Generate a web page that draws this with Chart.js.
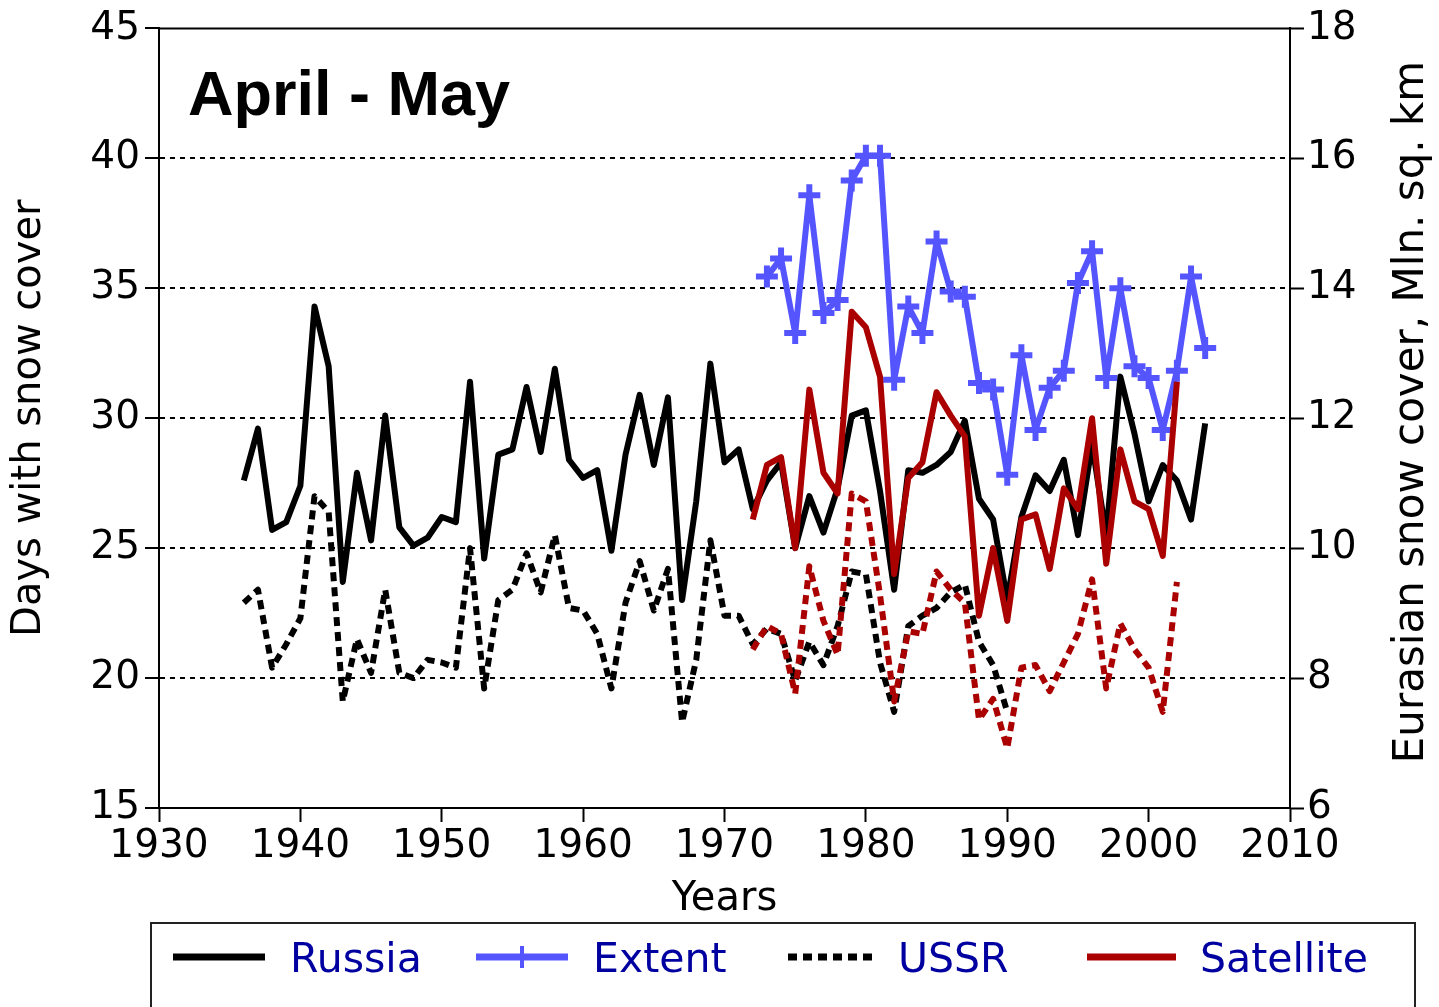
<!DOCTYPE html>
<html>
<head>
<meta charset="utf-8">
<title>April - May snow cover</title>
<script src="https://cdn.jsdelivr.net/npm/chart.js@4.4.1/dist/chart.umd.min.js"></script>
<style>
  html, body { margin: 0; padding: 0; background: #fff; }
  #wrap { width: 1439px; height: 1007px; }
</style>
</head>
<body>
<div id="wrap"><canvas id="snowChart" width="1439" height="1007"></canvas></div>
<script>
// years on the x axis
const years = [
  1936, 1937, 1938, 1939, 1940, 1941, 1942, 1943, 1944, 1945,
  1946, 1947, 1948, 1949, 1950, 1951, 1952, 1953, 1954, 1955,
  1956, 1957, 1958, 1959, 1960, 1961, 1962, 1963, 1964, 1965,
  1966, 1967, 1968, 1969, 1970, 1971, 1972, 1973, 1974, 1975,
  1976, 1977, 1978, 1979, 1980, 1981, 1982, 1983, 1984, 1985,
  1986, 1987, 1988, 1989, 1990, 1991, 1992, 1993, 1994, 1995,
  1996, 1997, 1998, 1999, 2000, 2001, 2002, 2003, 2004
];

// days with snow cover, stations in Russia
const russiaDays = [
  27.6, 29.6, 25.7, 26.0, 27.4, 34.3, 32.0, 23.7, 27.9, 25.3,
  30.1, 25.8, 25.1, 25.4, 26.2, 26.0, 31.4, 24.6, 28.6, 28.8,
  31.2, 28.7, 31.9, 28.4, 27.7, 28.0, 24.9, 28.6, 30.9, 28.2,
  30.8, 23.0, 26.8, 32.1, 28.3, 28.8, 26.5, 27.6, 28.3, 25.0,
  27.0, 25.6, 27.3, 30.1, 30.3, 27.2, 23.4, 28.0, 27.9, 28.2,
  28.7, 29.9, 26.9, 26.1, 23.0, 26.2, 27.8, 27.2, 28.4, 25.5,
  29.0, 25.5, 31.6, 29.4, 26.8, 28.2, 27.6, 26.1, 29.8
];

// days with snow cover, former USSR (ends 1990)
const ussrDays = [
  22.9, 23.4, 20.4, 21.3, 22.3, 27.0, 26.4, 19.1, 21.5, 20.2,
  23.4, 20.2, 20.0, 20.7, 20.6, 20.4, 25.0, 19.6, 23.0, 23.4,
  24.8, 23.3, 25.5, 22.7, 22.6, 21.7, 19.6, 22.9, 24.5, 22.6,
  24.2, 18.3, 20.7, 25.3, 22.4, 22.4, 21.3, 21.9, 21.7, 19.9,
  21.4, 20.5, 22.0, 24.1, 24.0, 20.6, 18.7, 22.0, 22.4, 22.7,
  23.3, 23.6, 21.4, 20.5, 18.7, null, null, null, null, null,
  null, null, null, null, null, null, null, null, null
];

// satellite days (solid red), 1972-2002
const satelliteDays = [
  null, null, null, null, null, null, null, null, null, null,
  null, null, null, null, null, null, null, null, null, null,
  null, null, null, null, null, null, null, null, null, null,
  null, null, null, null, null, null, 26.1, 28.2, 28.5, 25.0,
  31.1, 27.9, 27.1, 34.1, 33.5, 31.6, 24.0, 27.7, 28.3, 31.0,
  30.1, 29.3, 22.4, 25.0, 22.2, 26.1, 26.3, 24.2, 27.3, 26.5,
  30.0, 24.4, 28.8, 26.8, 26.5, 24.7, 31.4, null, null
];

// satellite days over the USSR area (dashed red), 1972-2002
const satelliteUssrDays = [
  null, null, null, null, null, null, null, null, null, null,
  null, null, null, null, null, null, null, null, null, null,
  null, null, null, null, null, null, null, null, null, null,
  null, null, null, null, null, null, 21.1, 22.0, 21.7, 19.4,
  24.3, 22.2, 20.9, 27.1, 26.8, 23.2, 19.1, 21.8, 21.7, 24.1,
  23.4, 22.9, 18.4, 19.2, 17.3, 20.4, 20.5, 19.5, 20.6, 21.7,
  23.8, 19.6, 22.1, 21.1, 20.4, 18.7, 23.7, null, null
];

// Eurasian snow cover extent, Mln. sq. km (right axis), 1973-2004
const extentMln = [
  null, null, null, null, null, null, null, null, null, null,
  null, null, null, null, null, null, null, null, null, null,
  null, null, null, null, null, null, null, null, null, null,
  null, null, null, null, null, null, null, 14.18, 14.46, 13.31,
  15.43, 13.62, 13.82, 15.66, 16.04, 16.04, 12.59, 13.72, 13.31, 14.72,
  13.95, 13.87, 12.54, 12.44, 11.13, 12.97, 11.82, 12.47, 12.73, 14.08,
  14.57, 12.62, 14.0, 12.8, 12.62, 11.82, 12.73, 14.18, 13.08
];

const panelTitle = "April - May";
const leftAxisTitle = "Days with snow cover";
const rightAxisTitle = "Eurasian snow cover, Mln. sq. km";
const bottomAxisTitle = "Years";

const BLACK = "#000000";
const BLUE = "#5555ff";
const RED = "#aa0000";
const LEGEND_TEXT = "#0000a0";

function toPoints(values) {
  return years.map((yr, i) => ({ x: yr, y: values[i] }));
}

// frame top, panel title, right axis title and legend box
const decorations = {
  id: "decorations",
  afterDraw(chart) {
    const ctx = chart.ctx;
    const area = chart.chartArea;
    ctx.save();

    ctx.strokeStyle = BLACK;
    ctx.lineWidth = 2;
    ctx.beginPath();
    ctx.moveTo(area.left, area.top);
    ctx.lineTo(area.right, area.top);
    ctx.stroke();

    ctx.fillStyle = BLACK;
    ctx.font = "bold 63px 'Liberation Sans', Arial, sans-serif";
    ctx.textAlign = "left";
    ctx.textBaseline = "alphabetic";
    ctx.fillText(panelTitle, 188, 115);

    ctx.save();
    ctx.translate(1412, 412);
    ctx.rotate(-Math.PI / 2);
    ctx.font = "42px 'DejaVu Sans', sans-serif";
    ctx.textAlign = "center";
    ctx.textBaseline = "middle";
    ctx.fillText(rightAxisTitle, 0, 0);
    ctx.restore();

    // legend
    ctx.lineWidth = 2;
    ctx.strokeStyle = "#222";
    ctx.strokeRect(151, 923, 1264, 120);

    const items = [
      { ds: 2, x0: 173, x1: 265, tx: 290 },
      { ds: 1, x0: 476, x1: 568, tx: 593 },
      { ds: 4, x0: 788, x1: 878, tx: 898 },
      { ds: 0, x0: 1087, x1: 1176, tx: 1200 },
    ];
    const ly = 957;
    items.forEach((it) => {
      const ds = chart.data.datasets[it.ds];
      ctx.save();
      ctx.strokeStyle = ds.borderColor;
      ctx.lineWidth = 7;
      ctx.setLineDash(ds.borderDash || []);
      ctx.beginPath();
      ctx.moveTo(it.x0, ly);
      ctx.lineTo(it.x1, ly);
      ctx.stroke();
      if (ds.pointStyle === "cross") {
        const cx = (it.x0 + it.x1) / 2;
        ctx.setLineDash([]);
        ctx.lineWidth = 4;
        ctx.beginPath();
        ctx.moveTo(cx, ly - 11);
        ctx.lineTo(cx, ly + 11);
        ctx.stroke();
      }
      ctx.restore();
      ctx.fillStyle = LEGEND_TEXT;
      ctx.font = "41px 'DejaVu Sans', sans-serif";
      ctx.textAlign = "left";
      ctx.textBaseline = "alphabetic";
      ctx.fillText(ds.label, it.tx, 972);
    });

    ctx.restore();
  },
};

const tickFont = { family: "'DejaVu Sans', sans-serif", size: 39 };
const titleFont = { family: "'DejaVu Sans', sans-serif", size: 40 };

const ctx = document.getElementById("snowChart").getContext("2d");
new Chart(ctx, {
  type: "line",
  data: {
    datasets: [
      {
        label: "Satellite",
        data: toPoints(satelliteDays),
        borderColor: RED,
        borderWidth: 6,
        pointRadius: 0,
        yAxisID: "y",
      },
      {
        label: "Extent",
        data: toPoints(extentMln),
        borderColor: BLUE,
        backgroundColor: BLUE,
        borderWidth: 6,
        pointStyle: "cross",
        pointRadius: 11,
        pointBorderWidth: 6,
        pointBorderColor: BLUE,
        yAxisID: "y2",
      },
      {
        label: "Russia",
        data: toPoints(russiaDays),
        borderColor: BLACK,
        borderWidth: 6,
        pointRadius: 0,
        yAxisID: "y",
      },
      {
        label: "",
        data: toPoints(satelliteUssrDays),
        borderColor: RED,
        borderWidth: 6,
        borderDash: [9, 6],
        pointRadius: 0,
        yAxisID: "y",
      },
      {
        label: "USSR",
        data: toPoints(ussrDays),
        borderColor: BLACK,
        borderWidth: 6,
        borderDash: [9, 6],
        pointRadius: 0,
        yAxisID: "y",
      },
    ],
  },
  options: {
    responsive: false,
    animation: false,
    spanGaps: false,
    layout: { padding: { top: 25, left: 0, right: 0, bottom: 0 } },
    elements: { line: { tension: 0, borderJoinStyle: "round", borderCapStyle: "butt" } },
    plugins: {
      legend: { display: false },
      tooltip: { enabled: false },
    },
    scales: {
      x: {
        type: "linear",
        position: "bottom",
        min: 1930,
        max: 2010,
        afterFit: (scale) => { scale.height = 199; },
        ticks: {
          stepSize: 10,
          autoSkip: false,
          maxRotation: 0,
          color: BLACK,
          font: tickFont,
          padding: 1,
          callback: (v) => String(v),
        },
        grid: {
          drawOnChartArea: false,
          drawTicks: true,
          tickLength: 14,
          tickColor: BLACK,
          tickWidth: 2,
        },
        border: { display: true, color: BLACK, width: 2 },
        title: {
          display: true,
          text: bottomAxisTitle,
          color: BLACK,
          font: titleFont,
          padding: { top: 0, bottom: 83 },
        },
      },
      y: {
        type: "linear",
        position: "left",
        min: 15,
        max: 45,
        afterFit: (scale) => { scale.width = 159; },
        ticks: { stepSize: 5, color: BLACK, font: tickFont, padding: 5 },
        grid: {
          color: (c) => (c.tick && (c.tick.value === 15 || c.tick.value === 45) ? "rgba(0,0,0,0)" : BLACK),
          lineWidth: 2,
          drawTicks: true,
          tickLength: 14,
          tickColor: BLACK,
          tickWidth: 2,
        },
        border: { display: true, color: BLACK, width: 2, dash: [5, 5] },
        title: {
          display: true,
          text: leftAxisTitle,
          color: BLACK,
          font: titleFont,
          padding: { top: 6, bottom: 0 },
        },
      },
      y2: {
        type: "linear",
        position: "right",
        min: 6,
        max: 18,
        afterFit: (scale) => { scale.width = 149; },
        ticks: { stepSize: 2, color: BLACK, font: tickFont, padding: 3 },
        grid: {
          drawOnChartArea: false,
          drawTicks: true,
          tickLength: 14,
          tickColor: BLACK,
          tickWidth: 2,
        },
        border: { display: true, color: BLACK, width: 2 },
      },
    },
  },
  plugins: [decorations],
});
</script>
</body>
</html>
